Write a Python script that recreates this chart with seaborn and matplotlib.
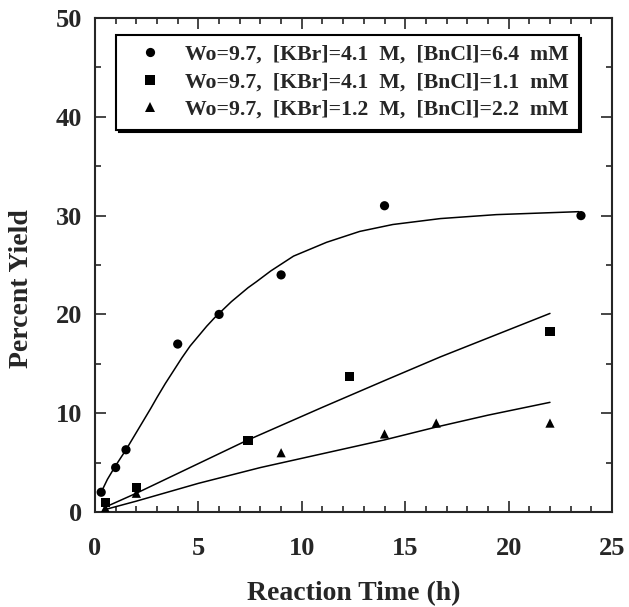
import numpy as np
import pandas as pd
import matplotlib
matplotlib.use("Agg")
import matplotlib.pyplot as plt
import seaborn as sns
from matplotlib.ticker import MultipleLocator

# Data
labels = ["Wo=9.7,  [KBr]=4.1  M,  [BnCl]=6.4  mM",
          "Wo=9.7,  [KBr]=4.1  M,  [BnCl]=1.1  mM",
          "Wo=9.7,  [KBr]=1.2  M,  [BnCl]=2.2  mM"]

t1 = [0.3, 1.0, 1.5, 4.0, 6.0, 9.0, 14.0, 23.5]
y1 = [2.0, 4.5, 6.3, 17.0, 20.0, 24.0, 31.0, 30.0]
t2 = [0.5, 2.0, 7.4, 12.3, 22.0]
y2 = [1.0, 2.5, 7.2, 13.7, 18.3]
t3 = [0.5, 2.0, 9.0, 14.0, 16.5, 22.0]
y3 = [0.4, 1.9, 6.0, 7.9, 9.0, 9.0]

# fitted curves
ft1 = [0.3, 0.6, 0.97, 1.5, 1.9, 2.3, 2.7, 3.0, 3.4, 3.8, 4.2, 4.6, 5.0, 5.4, 5.8, 6.2,
       6.6, 7.0, 7.4, 7.8, 8.5, 9.6, 11.2, 12.8, 14.4, 16.7, 19.4, 23.4]
fy1 = [2.0, 3.3, 4.6, 6.3, 7.7, 9.1, 10.5, 11.6, 13.0, 14.3, 15.6, 16.8, 17.8, 18.8, 19.7, 20.5,
       21.3, 22.0, 22.7, 23.3, 24.4, 25.9, 27.3, 28.4, 29.1, 29.7, 30.1, 30.4]
ft2 = [0.5, 2.0, 5.0, 7.3, 11.0, 14.0, 16.7, 22.0]
fy2 = [0.5, 1.9, 4.9, 7.2, 10.6, 13.3, 15.7, 20.1]
ft3 = [0.4, 2.0, 5.0, 8.0, 11.0, 14.0, 16.5, 19.0, 22.0]
fy3 = [0.2, 1.1, 2.9, 4.5, 5.9, 7.3, 8.6, 9.8, 11.1]

sns.set_style("ticks")
plt.rcParams['font.family'] = ['Liberation Serif', 'DejaVu Serif']
plt.rcParams['font.weight'] = 'bold'

fig = plt.figure(figsize=(6.29, 6.07), dpi=100)
ax = fig.add_axes([0.151, 0.1565, 0.822, 0.8138])

pts = pd.concat([
    pd.DataFrame({"t": t1, "y": y1, "series": labels[0]}),
    pd.DataFrame({"t": t2, "y": y2, "series": labels[1]}),
    pd.DataFrame({"t": t3, "y": y3, "series": labels[2]}),
])
fits = pd.concat([
    pd.DataFrame({"t": ft1, "y": fy1, "series": labels[0]}),
    pd.DataFrame({"t": ft2, "y": fy2, "series": labels[1]}),
    pd.DataFrame({"t": ft3, "y": fy3, "series": labels[2]}),
])

sns.lineplot(data=fits, x="t", y="y", units="series", estimator=None,
             color="black", lw=1.1, sort=False, ax=ax, legend=False)
sns.scatterplot(data=pts, x="t", y="y", style="series", style_order=labels,
                markers=["o", "s", "^"], color="black", s=44, edgecolor="black",
                linewidth=0, ax=ax, zorder=5)

ax.set_xlim(0, 25)
ax.set_ylim(0, 50)
ax.xaxis.set_major_locator(MultipleLocator(5))
ax.xaxis.set_minor_locator(MultipleLocator(1))
ax.yaxis.set_major_locator(MultipleLocator(10))
ax.yaxis.set_minor_locator(MultipleLocator(5))
ax.tick_params(which="both", direction="in", top=True, right=True, width=1.2)
ax.tick_params(which="major", length=8)
ax.tick_params(which="minor", length=4)
ax.tick_params(axis="x", which="major", pad=18, labelsize=19)
ax.tick_params(axis="y", which="major", pad=9, labelsize=19)
for lab in ax.get_xticklabels() + ax.get_yticklabels():
    lab.set_fontweight("bold")
for sp in ax.spines.values():
    sp.set_visible(True)
    sp.set_linewidth(1.5)

ax.set_xlabel("Reaction Time (h)", fontsize=20, fontweight="bold", labelpad=15)
ax.set_ylabel("Percent Yield", fontsize=20, fontweight="bold")
ax.yaxis.set_label_coords(-0.118, 0.453)

leg = ax.legend(loc="upper left", bbox_to_anchor=(0.041, 0.966), frameon=True,
                fancybox=False, shadow={'color': 'black', 'alpha': 1},
                prop={'family': 'Liberation Serif', 'weight': 'bold', 'size': 15.7},
                handlelength=2.2, handletextpad=0.5, borderpad=0.45,
                labelspacing=0.33, borderaxespad=0.0,
                markerscale=1.0, edgecolor="black", title=None)
leg.get_frame().set_linewidth(1.5)

fig.savefig("out.png", dpi=100)
